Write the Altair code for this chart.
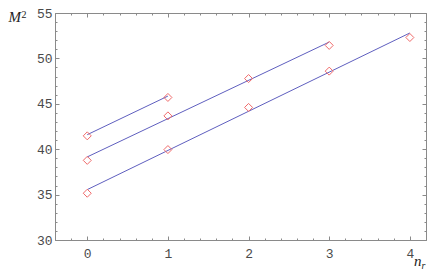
import altair as alt
import pandas as pd

# ---- data ----
pt_series = ["a", "a", "b", "b", "b", "b", "c", "c", "c", "c", "c"]
pt_n = [0, 1, 0, 1, 2, 3, 0, 1, 2, 3, 4]
pt_m2 = [41.47, 45.7, 38.77, 43.67, 47.78, 51.43, 35.15, 39.96, 44.6, 48.6, 52.3]

line_series = ["a", "a", "b", "b", "c", "c"]
line_n = [0, 1, 0, 3, 0, 4]
line_m2 = [41.6, 45.85, 39.15, 51.8, 35.55, 52.8]

x_major = [0, 1, 2, 3, 4]
x_minor = [round(-0.4 + 0.2 * i, 1) for i in range(24)]
y_major = [30, 35, 40, 45, 50, 55]
y_minor = list(range(30, 56))

pts = pd.DataFrame({"s": pt_series, "n": pt_n, "M2": pt_m2})
lines = pd.DataFrame({"s": line_series, "n": line_n, "M2": line_m2})

FRAME = "#8a8a8a"
LINE = "#5f5fbf"
PT = "#f06a6a"

xs = alt.Scale(domain=[-0.4, 4.2], nice=False, zero=False)
ys = alt.Scale(domain=[30, 55], nice=False, zero=False)


def ax(orient, values, size, labels, pad):
    return alt.Axis(orient=orient, values=values, tickSize=size, offset=-size,
                    domain=False, grid=False, labels=labels, title=None,
                    tickColor=FRAME, tickWidth=1, labelFont="Liberation Mono",
                    labelFontSize=13, labelColor="#4a4a4a", labelPadding=pad)


line_layer = alt.Chart(lines).mark_line(color=LINE, strokeWidth=1).encode(
    x=alt.X("n:Q", scale=xs, axis=ax("bottom", x_major, 4, True, 7)),
    y=alt.Y("M2:Q", scale=ys, axis=ax("left", y_major, 4, True, 3)),
    detail="s:N",
)

pt_layer = alt.Chart(pts).mark_point(shape="diamond", filled=False, color=PT,
                                     strokeWidth=1, size=64, opacity=1).encode(
    x=alt.X("n:Q", scale=xs, axis=ax("bottom", x_minor, 2, False, 0)),
    y=alt.Y("M2:Q", scale=ys, axis=ax("left", y_minor, 2, False, 0)),
)

top_major = alt.Chart(pts).mark_point(opacity=0).encode(
    x=alt.X("n:Q", scale=xs, axis=ax("top", x_major, 4, False, 0)),
    y=alt.Y("M2:Q", scale=ys, axis=ax("right", y_major, 4, False, 0)),
)

top_minor = alt.Chart(pts).mark_point(opacity=0).encode(
    x=alt.X("n:Q", scale=xs, axis=ax("top", x_minor, 2, False, 0)),
    y=alt.Y("M2:Q", scale=ys, axis=ax("right", y_minor, 2, False, 0)),
)

lbl = pd.DataFrame({"t": ["M", "2", "n", "r"]})


def txt(t, x, y, size, italic):
    return alt.Chart(lbl).transform_filter(alt.datum.t == t).mark_text(
        font="Liberation Serif", fontSize=size,
        fontStyle="italic" if italic else "normal",
        align="left", baseline="alphabetic", color="#222222",
    ).encode(x=alt.value(x), y=alt.value(y), text="t:N")


chart = alt.layer(
    line_layer, pt_layer, top_major, top_minor,
    txt("M", -46.5, 9, 15, True),
    txt("2", -33.5, 5, 10, False),
    txt("n", 359, 253, 15, True),
    txt("r", 366.5, 255.5, 10, True),
).resolve_axis(x="independent", y="independent").properties(
    width=371, height=227,
    autosize=alt.AutoSizeParams(type="none"),
    padding={"left": 47, "top": 5, "right": 1, "bottom": 32},
).configure_view(stroke=FRAME, strokeWidth=1)

chart.save("out.html", embed_options={"renderer": "svg", "actions": False})
